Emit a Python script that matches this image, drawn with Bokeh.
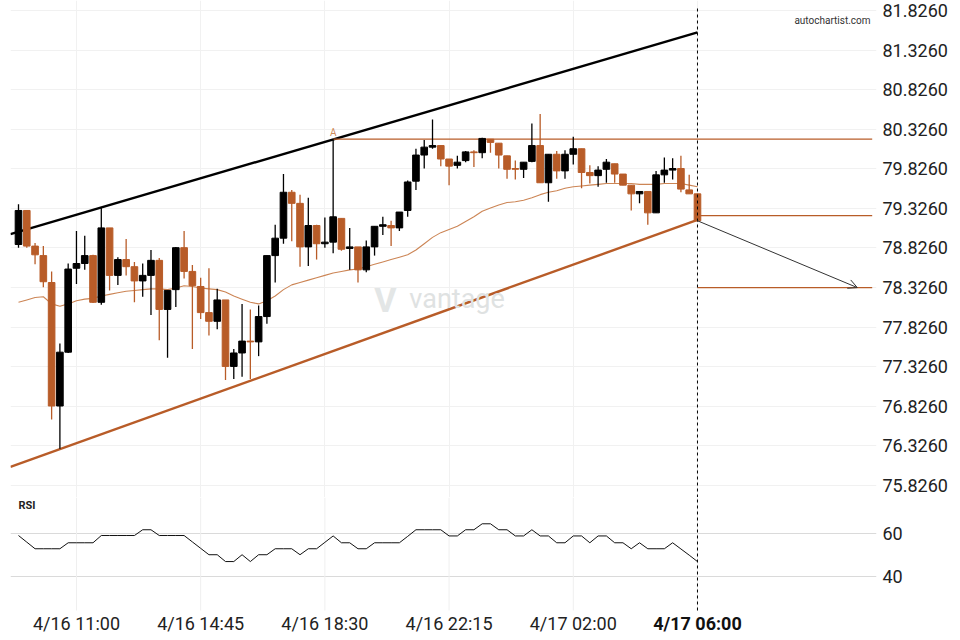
from bokeh.plotting import figure
from bokeh.layouts import column
from bokeh.models import (Range1d, FixedTicker, PrintfTickFormatter, Label,
                          Arrow, OpenHead, ColumnDataSource)
from bokeh.core.properties import value
from bokeh.embed import file_html
from bokeh.resources import INLINE

# ---------------- data (15-minute candles, 4/16 09:15 .. 4/17 06:00) ----------------
opens = [78.87, 79.30, 78.85, 78.73, 78.39, 76.83, 77.51, 78.57, 78.63, 78.73,
         78.14, 79.08, 78.48, 78.68, 78.59, 78.41, 78.48, 78.67, 78.05, 78.30,
         78.83, 78.53, 78.34, 78.01, 77.90, 78.17, 77.33, 77.50, 77.65, 77.64,
         77.96, 78.73, 78.95, 79.53, 79.39, 78.84, 79.11, 78.88, 78.90, 79.20,
         78.82, 78.84, 78.55, 78.84, 79.10, 79.11, 79.08, 79.30, 79.67, 80.00,
         80.10, 80.12, 79.95, 79.87, 79.93, 80.04, 80.03, 80.20, 80.15, 79.99,
         79.83, 79.82, 79.92, 80.12, 79.65, 80.01, 79.80, 80.01, 80.08, 79.78,
         79.74, 79.82, 79.89, 79.76, 79.62, 79.51, 79.54, 79.27, 79.75, 79.81,
         79.83, 79.56, 79.51]
highs = [79.38, 79.30, 78.89, 78.85, 78.53, 77.62, 78.63, 79.04, 78.98, 78.74,
         79.33, 79.08, 78.71, 78.94, 78.65, 78.63, 78.80, 78.70, 78.29, 78.84,
         79.04, 78.61, 78.45, 78.57, 78.31, 78.17, 77.55, 78.12, 78.05, 78.10,
         78.73, 79.12, 79.76, 79.56, 79.50, 79.46, 79.12, 79.21, 80.20, 79.20,
         79.08, 78.84, 78.92, 79.10, 79.22, 79.17, 79.28, 79.68, 80.08, 80.19,
         80.45, 80.12, 79.95, 79.99, 80.05, 80.06, 80.22, 80.20, 80.15, 79.99,
         79.93, 79.91, 80.40, 80.52, 80.01, 80.05, 80.06, 80.23, 80.08, 79.87,
         79.86, 79.95, 79.89, 79.76, 79.62, 79.54, 79.54, 79.80, 79.97, 79.96,
         79.99, 79.75, 79.51]
lows = [78.83, 78.83, 78.62, 78.33, 76.66, 76.29, 77.50, 78.37, 78.55, 78.13,
        78.11, 78.29, 78.36, 78.48, 78.14, 78.21, 77.98, 77.66, 77.44, 78.08,
        78.44, 77.55, 77.93, 77.72, 77.80, 77.16, 77.17, 77.20, 77.17, 77.46,
        77.87, 78.39, 78.88, 78.91, 78.59, 78.60, 78.68, 78.83, 78.76, 78.79,
        78.55, 78.39, 78.52, 78.73, 78.99, 78.85, 79.04, 79.22, 79.56, 79.83,
        80.08, 79.86, 79.62, 79.83, 79.91, 79.85, 79.96, 80.03, 79.83, 79.70,
        79.69, 79.71, 79.91, 79.65, 79.41, 79.70, 79.70, 79.88, 79.58, 79.64,
        79.60, 79.65, 79.65, 79.62, 79.30, 79.39, 79.12, 79.27, 79.65, 79.69,
        79.53, 79.51, 79.16]
closes = [79.30, 78.85, 78.74, 78.40, 76.83, 77.51, 78.56, 78.63, 78.73, 78.14,
          79.08, 78.48, 78.68, 78.59, 78.41, 78.48, 78.67, 78.05, 78.29, 78.83,
          78.53, 78.35, 78.01, 77.90, 78.17, 77.33, 77.50, 77.65, 77.64, 77.96,
          78.73, 78.95, 79.53, 79.39, 78.84, 79.11, 78.88, 78.90, 79.22, 78.81,
          78.84, 78.55, 78.84, 79.10, 79.12, 79.08, 79.28, 79.66, 80.00, 80.10,
          80.12, 79.95, 79.86, 79.91, 80.04, 80.03, 80.21, 80.16, 80.00, 79.82,
          79.82, 79.91, 80.12, 79.65, 80.01, 79.80, 80.01, 80.08, 79.78, 79.74,
          79.81, 79.91, 79.76, 79.62, 79.51, 79.54, 79.27, 79.75, 79.81, 79.83,
          79.57, 79.51, 79.17]
ma_values = [78.14, 78.17, 78.20, 78.21, 78.12, 78.09, 78.12, 78.16, 78.18, 78.19,
             78.22, 78.24, 78.26, 78.28, 78.29, 78.30, 78.31, 78.31, 78.30, 78.32,
             78.35, 78.34, 78.32, 78.31, 78.30, 78.27, 78.22, 78.18, 78.14, 78.12,
             78.16, 78.22, 78.30, 78.36, 78.39, 78.42, 78.45, 78.48, 78.51, 78.53,
             78.55, 78.56, 78.59, 78.62, 78.65, 78.68, 78.71, 78.74, 78.80, 78.88,
             78.96, 79.02, 79.06, 79.10, 79.16, 79.22, 79.29, 79.33, 79.37, 79.40,
             79.41, 79.43, 79.46, 79.50, 79.53, 79.55, 79.58, 79.60, 79.61, 79.62,
             79.63, 79.64, 79.64, 79.64, 79.64, 79.63, 79.63, 79.63, 79.64, 79.64,
             79.64, 79.62, 79.60]
rsi_values = [59.2, 56.1, 53.0, 53.0, 53.0, 53.0, 55.8, 55.8, 55.8, 55.8,
              59.2, 59.2, 59.2, 59.2, 59.2, 61.9, 61.9, 59.2, 59.2, 59.2,
              59.2, 56.2, 53.2, 50.2, 50.2, 47.0, 47.0, 50.2, 47.0, 50.2,
              50.2, 53.0, 53.0, 53.0, 50.2, 53.0, 53.0, 56.0, 59.0, 55.8,
              55.8, 53.0, 53.0, 55.8, 55.8, 55.8, 55.8, 58.8, 61.9, 61.9,
              61.9, 61.9, 59.0, 59.0, 61.9, 61.9, 64.7, 64.7, 61.9, 61.9,
              59.0, 59.0, 61.9, 59.0, 59.0, 55.8, 55.8, 59.0, 59.0, 55.8,
              59.0, 59.0, 55.8, 55.8, 53.0, 55.8, 53.0, 53.0, 53.0, 55.8,
              52.9, 50.0, 47.0]
time_tick_idx = [7, 22, 37, 52, 67, 82]
time_tick_labels = ["4/16 11:00", "4/16 14:45", "4/16 18:30",
                    "4/16 22:15", "4/17 02:00", "4/17 06:00"]
price_ticks = [75.826, 76.326, 76.826, 77.326, 77.826, 78.326, 78.826,
               79.326, 79.826, 80.326, 80.826, 81.326, 81.826]
rsi_ticks = [40, 60]

# channel (pattern) lines
upper_x = [-0.97, 82]
upper_y = [79.00, 81.55]
lower_x = [-0.97, 82]
lower_y = [76.06, 79.18]
point_a_idx = 38
point_a_level = 80.20
breakout_level = 79.235
target_level = 78.326
forecast_x = [82, 101.3]
forecast_y = [79.17, 78.326]
last_idx = 82
x_right = 103.1

# ---------------- styling ----------------
UP = "#000000"
DOWN = "#b85c28"
MA_COLOR = "#cc8555"
FONT = "Roboto"
TXT = "#222222"
W = 950
RB = 74
P_LO, P_HI = 75.6744, 81.9523
P_DASH_TOP = 81.864

idx = list(range(len(opens)))
colors = [UP if c >= o else DOWN for o, c in zip(opens, closes)]
src = ColumnDataSource(dict(
    x=idx, open=opens, high=highs, low=lows, close=closes,
    top=[max(o, c) for o, c in zip(opens, closes)],
    bottom=[min(o, c) for o, c in zip(opens, closes)],
    color=colors, ma=ma_values, rsi=rsi_values))

x_range = Range1d(-0.966, 103.62)

price = figure(width=W, height=497, x_range=x_range,
               y_range=Range1d(P_LO, P_HI),
               output_backend="svg", toolbar_location=None,
               x_axis_location=None, y_axis_location="right",
               min_border_left=10, min_border_right=RB,
               min_border_top=0, min_border_bottom=0)
price.outline_line_color = None
price.background_fill_color = "white"
price.border_fill_color = "white"

yax = price.yaxis[0]
yax.ticker = FixedTicker(ticks=price_ticks)
yax.formatter = PrintfTickFormatter(format="%.4f")
yax.axis_line_color = None
yax.major_tick_line_color = None
yax.minor_tick_line_color = None
yax.major_label_standoff = 0
yax.major_label_text_font = FONT
yax.major_label_text_font_size = "18px"
yax.major_label_text_color = TXT

price.ygrid.grid_line_color = "#f1f1f1"
price.xgrid.ticker = FixedTicker(ticks=time_tick_idx)
price.xgrid.grid_line_color = "#f1f1f1"

# watermark
price.add_layout(Label(x=44.3, y=78.17, text="V", text_font=FONT, text_font_size="34px",
                       text_font_style="bold", text_color="#e3e6e6",
                       text_align="center", text_baseline="middle"))
price.add_layout(Label(x=47.2, y=78.18, text="vantage", text_font=FONT, text_font_size="27px",
                       text_color="#dfe2e2", text_align="left", text_baseline="middle"))

# moving average
price.line("x", "ma", source=src, line_color=MA_COLOR, line_width=1.1)

# channel lines
price.line(upper_x, upper_y, line_color="#000000", line_width=2.4)
price.line(lower_x, lower_y, line_color=DOWN, line_width=2.4)

# horizontal levels
price.line([point_a_idx, x_right], [point_a_level, point_a_level], line_color=DOWN, line_width=1.2)
price.line([last_idx, x_right], [breakout_level, breakout_level], line_color=DOWN, line_width=1.2)
price.line([last_idx, x_right], [target_level, target_level], line_color=DOWN, line_width=1.2)

# candles
price.segment("x", "high", "x", "low", source=src, line_color="color", line_width=1.3)
price.vbar(x="x", width=0.8, top="top", bottom="bottom", source=src,
           fill_color="color", line_color="color", line_width=1)

# forecast arrow
price.add_layout(Arrow(end=OpenHead(size=9, line_color="#333333", line_width=1),
                       x_start=forecast_x[0], y_start=forecast_y[0],
                       x_end=forecast_x[1], y_end=forecast_y[1],
                       line_color="#333333", line_width=1))

# current-time marker
price.segment(x0=[last_idx], y0=[P_LO], x1=[last_idx], y1=[P_DASH_TOP],
              line_color="#000000", line_dash="3 3", line_width=1)

price.add_layout(Label(x=point_a_idx, y=point_a_level, y_offset=1, text="A",
                       text_font=FONT, text_font_size="10px", text_color="#d08a58",
                       text_align="center", text_baseline="bottom"))
price.add_layout(Label(x=102.9, y=81.70, text="autochartist.com", text_font=FONT,
                       text_font_size="10px", text_color="#333333",
                       text_align="right", text_baseline="middle"))

# ---------------- RSI panel ----------------
RSI_LO = 11.875      # bottom of the panel (area that holds the time labels)
RSI_GRID_LO = 24.06  # where the vertical grid lines stop
RSI_HI = 77.02
rsi = figure(width=W, height=139, x_range=x_range, y_range=Range1d(RSI_LO, RSI_HI),
             output_backend="svg", toolbar_location=None, y_axis_location="right",
             x_axis_location=None,
             min_border_left=10, min_border_right=RB, min_border_top=0, min_border_bottom=0)
rsi.outline_line_color = None
rsi.background_fill_color = "white"
rsi.border_fill_color = "white"

ry = rsi.yaxis[0]
ry.ticker = FixedTicker(ticks=rsi_ticks)
ry.axis_line_color = None
ry.major_tick_line_color = None
ry.minor_tick_line_color = None
ry.major_label_standoff = 0
ry.major_label_text_font = FONT
ry.major_label_text_font_size = "18px"
ry.major_label_text_color = TXT

rsi.ygrid.grid_line_color = "#dadada"
rsi.xgrid.visible = False

# vertical grid lines of the time ticks (stop above the time labels)
rsi.segment(x0=time_tick_idx, y0=[RSI_GRID_LO] * len(time_tick_idx),
            x1=time_tick_idx, y1=[RSI_HI] * len(time_tick_idx),
            line_color="#efefef", line_width=1)

rsi.line("x", "rsi", source=src, line_color="#111111", line_width=1)
rsi.segment(x0=[last_idx], y0=[RSI_GRID_LO], x1=[last_idx], y1=[RSI_HI],
            line_color="#000000", line_dash="3 3", line_width=1)
rsi.add_layout(Label(x=0, y=73.3, text="RSI", text_font=FONT, text_font_size="11px",
                     text_font_style="bold", text_color="#222222",
                     text_align="left", text_baseline="middle"))

# time labels
label_y = 18.0
rsi.text(x=time_tick_idx[:-1], y=[label_y] * (len(time_tick_idx) - 1),
         text=time_tick_labels[:-1], text_font=value(FONT), text_font_size="18px",
         text_color=TXT, text_align="center", text_baseline="middle")
rsi.text(x=time_tick_idx[-1:], y=[label_y], text=time_tick_labels[-1:],
         text_font=value(FONT), text_font_size="18px", text_font_style="bold",
         text_color="#111111", text_align="center", text_baseline="middle")

layout = column(price, rsi, spacing=0)
open("out.html", "w").write(file_html(layout, INLINE))
